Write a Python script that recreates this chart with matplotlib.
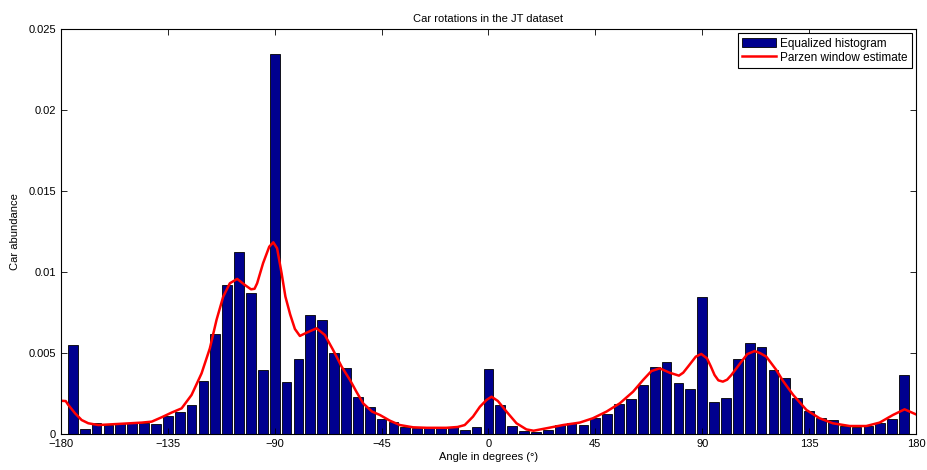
import numpy as np
import matplotlib
matplotlib.use("Agg")
import matplotlib.pyplot as plt

plt.rcParams['font.family'] = ['Liberation Sans', 'DejaVu Sans']

# histogram bins (centres, degrees) and heights
bin_centers = list(range(-175, 180, 5))
hist_vals = [
    0.0055, 0.0003, 0.00068, 0.0006, 0.00068, 0.0007, 0.0007, 0.00064,   # -175 .. -140
    0.0011, 0.00136, 0.0018, 0.0033, 0.0062, 0.0092, 0.01127, 0.0087,    # -135 .. -100
    0.00397, 0.0235, 0.00323, 0.00465, 0.00734, 0.00708, 0.0050, 0.0041,  # -95 .. -60
    0.0023, 0.00167, 0.00093, 0.00074, 0.00045, 0.0004, 0.0004, 0.0004,  # -55 .. -20
    0.00042, 0.00026, 0.00045, 0.00405, 0.0018, 0.0005, 0.0002, 0.00012, # -15 .. 20
    0.00028, 0.00055, 0.00068, 0.0006, 0.00103, 0.00125, 0.0019, 0.00216, # 25 .. 60
    0.00306, 0.00417, 0.00448, 0.00319, 0.00282, 0.0085, 0.0020, 0.00226, # 65 .. 100
    0.00463, 0.00564, 0.00537, 0.00397, 0.00346, 0.00224, 0.00144, 0.00103, # 105 .. 140
    0.00088, 0.00053, 0.00047, 0.0005, 0.00072, 0.00096, 0.00364,          # 145 .. 175
]

# Parzen window estimate
parzen_x = [-180, -178, -176.9, -174.1, -171.3, -168.5, -164.3, -154.5, -146, -141.8,
            -137.6, -133.4, -129.2, -125, -120.8, -117.3, -114.5, -111.7, -108.9, -105.8,
            -102.6, -100, -98.5, -97.4, -94.9, -92.3, -90.6, -89, -87.1, -85.5, -83.5,
            -81.5, -79.4, -76.6, -72.4, -68.9, -65.4, -61.8, -58.3, -55.5, -52.7,
            -49, -45.7, -41.5, -37.3, -31.7, -26, -17.7, -13, -10, -6.5,
            -3.6, -0.8, 1.3, 4, 7.6, 11.8, 16, 19, 24.4, 31.4,
            38.4, 44, 49.7, 55.3, 60.9, 65.1, 68.6, 72.1, 76.3, 80.2,
            82, 84, 87.3, 89.6, 92, 93.6, 95.2, 96.8, 98.7, 100.5, 102.3, 106.5, 109, 112.1,
            114.5, 117, 121.2, 124, 128.3, 133.9, 139.4, 145, 152.1, 159.1, 164.7,
            170.3, 175.2, 180]
parzen_y = [0.00207, 0.00205, 0.00181, 0.0013, 0.00088, 0.00068, 0.00057, 0.00065, 0.00072, 0.00078,
            0.00105, 0.00134, 0.0016, 0.00243, 0.00376, 0.00531, 0.00706, 0.00849, 0.00932, 0.00959,
            0.00922, 0.00895, 0.00898, 0.00932, 0.01056, 0.01158, 0.01185, 0.01148, 0.00994, 0.0085, 0.0074,
            0.0065, 0.00607, 0.00627, 0.00654, 0.00613, 0.0052, 0.00417, 0.00335, 0.0026, 0.0019,
            0.0014, 0.00119, 0.00084, 0.00057, 0.00043, 0.0004, 0.0004, 0.00045, 0.00057, 0.00109,
            0.0017, 0.00212, 0.00232, 0.00205, 0.0014, 0.00068, 0.0003, 0.00022, 0.00037, 0.00057,
            0.00072, 0.00099, 0.0014, 0.00191, 0.00263, 0.00335, 0.0039, 0.00407, 0.0038, 0.00362,
            0.0038, 0.00417, 0.00479, 0.00496, 0.00469, 0.0042, 0.00366, 0.00333, 0.00325, 0.00337, 0.00366, 0.00448, 0.00495, 0.00514,
            0.0050, 0.00479, 0.00397, 0.0033, 0.00243, 0.0015, 0.00099, 0.00068, 0.00051, 0.00051, 0.00072,
            0.00119, 0.00154, 0.00123]

xticks = [-180, -135, -90, -45, 0, 45, 90, 135, 180]
yticks = [0, 0.005, 0.01, 0.015, 0.02, 0.025]
ytick_labels = ["0", "0.005", "0.01", "0.015", "0.02", "0.025"]

fig = plt.figure(figsize=(9.28, 4.70), dpi=100)
ax = fig.add_axes([0.0657, 0.076, 0.9213, 0.8617])

bars = ax.bar(bin_centers, hist_vals, width=4.1, color='#00008F', edgecolor='black',
              linewidth=0.6, label='Equalized histogram')
line, = ax.plot(parzen_x, parzen_y, color='red', linewidth=1.8,
                solid_joinstyle='round', label='Parzen window estimate')

ax.set_xlim(-180, 180)
ax.set_ylim(0, 0.025)
ax.set_xticks(xticks)
ax.set_yticks(yticks)
ax.set_yticklabels(ytick_labels)
ax.tick_params(direction='in', top=True, right=True, labelsize=8, length=4, width=0.6)
for s in ax.spines.values():
    s.set_linewidth(0.8)

ax.set_title("Car rotations in the JT dataset", fontsize=8, pad=5)
ax.set_xlabel("Angle in degrees (°)", fontsize=8, labelpad=2)
ax.set_ylabel("Car abundance", fontsize=8, labelpad=6)

leg = ax.legend(handles=[bars, line], loc='upper right', fontsize=8.5, fancybox=False,
                framealpha=1, edgecolor='black', borderaxespad=0.35, handlelength=2.9,
                handleheight=0.9, borderpad=0.35, labelspacing=0.2, handletextpad=0.35)
leg.get_frame().set_linewidth(0.8)

fig.savefig("out.png", dpi=100)
